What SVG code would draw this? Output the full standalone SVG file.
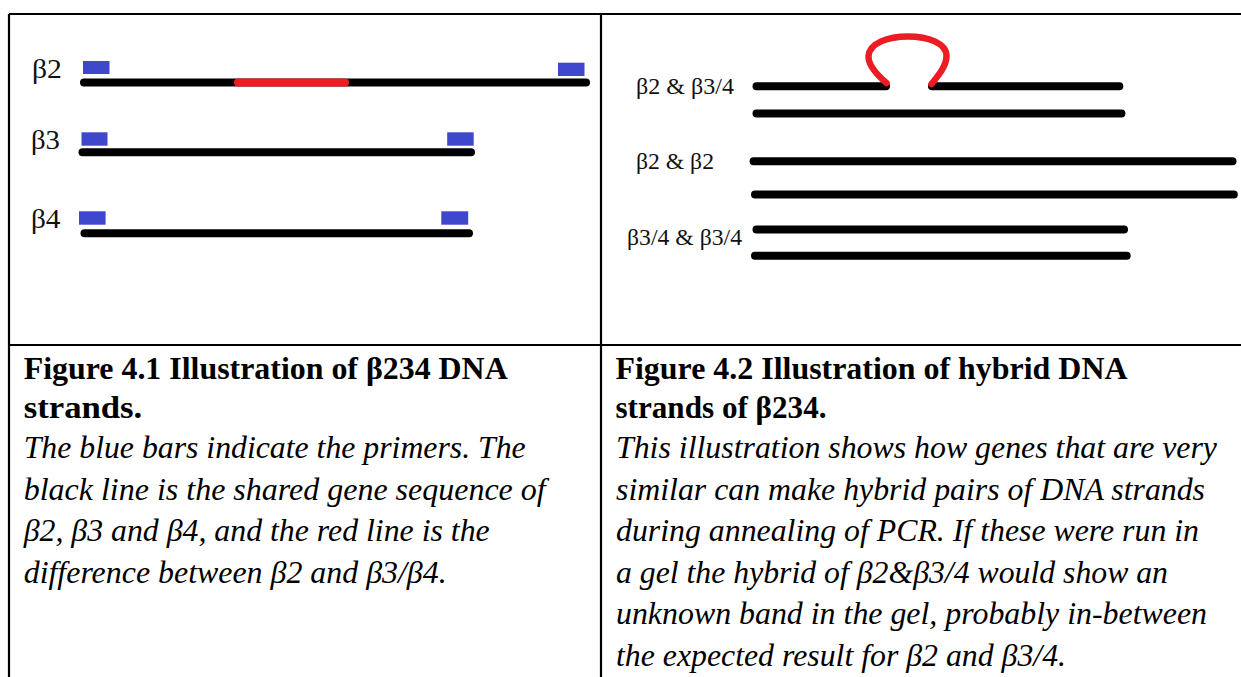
<svg xmlns="http://www.w3.org/2000/svg" width="1241" height="677" viewBox="0 0 1241 677">
  <defs>
    <style>
      .grid { stroke: #000; stroke-width: 2.2; fill: none; }
      .strand { stroke: #000; stroke-width: 8; stroke-linecap: round; fill: none; }
      .diff { stroke: #ed1c24; stroke-width: 8; stroke-linecap: round; fill: none; }
      .loop { stroke: #ed1c24; stroke-width: 6.5; stroke-linecap: round; fill: none; }
      .primer { fill: #3f48cc; }
      .lbl { font-family: "Liberation Serif", "Times New Roman", serif; fill: #111; }
      .head { font-family: "Liberation Serif", "Times New Roman", serif; font-weight: bold; font-size: 32px; fill: #000; }
      .body { font-family: "Liberation Serif", "Times New Roman", serif; font-style: italic; font-size: 32px; fill: #000; }
    </style>
  </defs>

  <rect width="1241" height="677" fill="#fff"/>

  <!-- table rules -->
  <g id="table" class="grid">
    <line x1="9" y1="14" x2="1241" y2="14"/>
    <line x1="9" y1="14" x2="9" y2="677"/>
    <line x1="601" y1="14" x2="601" y2="677"/>
    <line x1="9" y1="345" x2="1241" y2="345"/>
  </g>

  <!-- left panel: single strands with primers -->
  <g id="strand-b2">
    <text class="lbl" x="32" y="78" font-size="27" textLength="30" lengthAdjust="spacingAndGlyphs">β2</text>
    <line class="strand" x1="84" y1="82.5" x2="586" y2="82.5"/>
    <line class="diff" x1="238" y1="82.5" x2="345" y2="82.5"/>
    <rect class="primer" x="83" y="61" width="26.5" height="13"/>
    <rect class="primer" x="558" y="62.7" width="26.5" height="13.3"/>
  </g>
  <g id="strand-b3">
    <text class="lbl" x="31" y="149" font-size="27" textLength="29" lengthAdjust="spacingAndGlyphs">β3</text>
    <line class="strand" x1="82.5" y1="152.3" x2="471" y2="152.3"/>
    <rect class="primer" x="81.5" y="132.3" width="26" height="13.4"/>
    <rect class="primer" x="447.2" y="132.3" width="26.5" height="13.4"/>
  </g>
  <g id="strand-b4">
    <text class="lbl" x="31" y="228" font-size="27" textLength="29.5" lengthAdjust="spacingAndGlyphs">β4</text>
    <line class="strand" x1="84.5" y1="233.3" x2="469" y2="233.3"/>
    <rect class="primer" x="79" y="211.3" width="26.6" height="13.4"/>
    <rect class="primer" x="441.3" y="211.3" width="26.9" height="13.4"/>
  </g>

  <!-- right panel: hybrid pairs -->
  <g id="pair-b2-b34">
    <text class="lbl" x="636" y="94" font-size="24" textLength="98" lengthAdjust="spacingAndGlyphs">β2 &amp; β3/4</text>
    <line class="strand" x1="756.5" y1="86.3" x2="886" y2="86.3"/>
    <line class="strand" x1="932" y1="86.3" x2="1119.3" y2="86.3"/>
    <path class="loop" d="M886.5 83 C876 74, 868 65, 868.5 56 C869.5 43, 888 36.5, 908 36.5 C928 36.5, 946.5 43, 946.5 56 C946.5 66, 938 76, 931.5 84"/>
    <line class="strand" x1="756.5" y1="113.5" x2="1121.4" y2="113.5"/>
  </g>
  <g id="pair-b2-b2">
    <text class="lbl" x="636" y="169" font-size="24" textLength="78" lengthAdjust="spacingAndGlyphs">β2 &amp; β2</text>
    <line class="strand" x1="753.6" y1="161.3" x2="1232.5" y2="161.3"/>
    <line class="strand" x1="755" y1="194.5" x2="1233.8" y2="194.5"/>
  </g>
  <g id="pair-b34-b34">
    <text class="lbl" x="627" y="245" font-size="24" textLength="115" lengthAdjust="spacingAndGlyphs">β3/4 &amp; β3/4</text>
    <line class="strand" x1="756.5" y1="229.5" x2="1124" y2="229.5"/>
    <line class="strand" x1="755" y1="255.7" x2="1126.7" y2="255.7"/>
  </g>

  <!-- captions -->
  <g id="caption-4-1">
    <text class="head" x="23.7" y="379" textLength="484" lengthAdjust="spacingAndGlyphs">Figure 4.1 Illustration of β234 DNA</text>
    <text class="head" x="23.7" y="418" textLength="118.6" lengthAdjust="spacingAndGlyphs">strands.</text>
    <text class="body" x="23.7" y="458" textLength="502" lengthAdjust="spacingAndGlyphs">The blue bars indicate the primers. The</text>
    <text class="body" x="23.7" y="499.5" textLength="522" lengthAdjust="spacingAndGlyphs">black line is the shared gene sequence of</text>
    <text class="body" x="23.7" y="541" textLength="466" lengthAdjust="spacingAndGlyphs">β2, β3 and β4, and the red line is the</text>
    <text class="body" x="23.7" y="582.5" textLength="423" lengthAdjust="spacingAndGlyphs">difference between β2 and β3/β4.</text>
  </g>
  <g id="caption-4-2">
    <text class="head" x="615.5" y="379" textLength="512" lengthAdjust="spacingAndGlyphs">Figure 4.2 Illustration of hybrid DNA</text>
    <text class="head" x="615.5" y="417.5" textLength="211" lengthAdjust="spacingAndGlyphs">strands of β234.</text>
    <text class="body" x="616" y="458" textLength="601" lengthAdjust="spacingAndGlyphs">This illustration shows how genes that are very</text>
    <text class="body" x="616" y="499.6" textLength="589" lengthAdjust="spacingAndGlyphs">similar can make hybrid pairs of DNA strands</text>
    <text class="body" x="616" y="541.2" textLength="583" lengthAdjust="spacingAndGlyphs">during annealing of PCR. If these were run in</text>
    <text class="body" x="616" y="582.8" textLength="552" lengthAdjust="spacingAndGlyphs">a gel the hybrid of β2&amp;β3/4 would show an</text>
    <text class="body" x="616" y="624.4" textLength="591" lengthAdjust="spacingAndGlyphs">unknown band in the gel, probably in-between</text>
    <text class="body" x="616" y="666" textLength="450" lengthAdjust="spacingAndGlyphs">the expected result for β2 and β3/4.</text>
  </g>
</svg>
